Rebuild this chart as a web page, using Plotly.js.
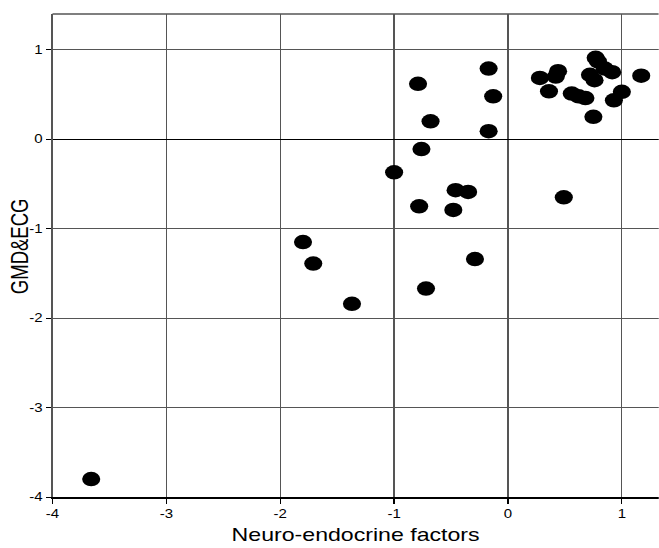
<!DOCTYPE html>
<html><head><meta charset="utf-8">
<script src="https://cdn.plot.ly/plotly-3.0.1.min.js"></script>
<style>
html,body{margin:0;padding:0;background:#fff;overflow:hidden;width:659px;height:548px}
#chart{width:527px;height:548px;transform:scaleX(1.25);transform-origin:0 0}
</style>
</head><body><div id="chart"></div>
<script>
const xValues = [-3.66,-1.80,-1.71,-1.37,-1.00,-0.79,-0.76,-0.78,-0.68,-0.72,-0.46,-0.35,-0.48,-0.29,-0.17,-0.13,-0.17,0.49,
  0.28,0.44,0.42,0.36,0.56,0.62,0.68,0.77,0.79,0.72,0.76,0.85,0.915,0.75,1.00,0.93,1.17];
const yValues = [-3.80,-1.15,-1.39,-1.84,-0.37,0.62,-0.11,-0.75,0.20,-1.67,-0.57,-0.59,-0.79,-1.34,0.79,0.48,0.09,-0.65,
  0.685,0.76,0.70,0.536,0.51,0.48,0.46,0.91,0.87,0.72,0.66,0.79,0.75,0.25,0.53,0.435,0.71];
const xTicks = [-4,-3,-2,-1,0,1];
const xTickLabels = ["-4","-3","-2","-1","0","1"];
const yTicks = [-4,-3,-2,-1,0,1];
const yTickLabels = ["-4","-3","-2","-1","0","1"];
const xTitle = "Neuro-endocrine factors";
const yTitle = "GMD&ECG";

Plotly.newPlot('chart', [{
  x: xValues, y: yValues, type: 'scatter', mode: 'markers',
  marker: {color: '#000', size: 14.5, symbol: 'circle', line: {width: 0}},
  cliponaxis: true, hoverinfo: 'none'
}], {
  width: 527, height: 548,
  margin: {l: 41.5, r: 0, t: 14, b: 51},
  paper_bgcolor: '#fff', plot_bgcolor: '#fff',
  showlegend: false,
  font: {family: 'Liberation Sans, Arial, sans-serif', color: '#000', size: 12},
  xaxis: {
    range: [-4, 1.324], tickvals: xTicks, ticktext: xTickLabels,
    showgrid: true, gridcolor: '#555', gridwidth: 1,
    zeroline: false, showline: true, linecolor: '#000', linewidth: 1.5,
    mirror: false, ticks: 'outside', ticklen: 5, tickcolor: '#000',
    title: {text: xTitle, font: {size: 18.5}, standoff: 8}
  },
  yaxis: {
    range: [-4, 1.4], tickvals: yTicks, ticktext: yTickLabels,
    showgrid: true, gridcolor: '#555', gridwidth: 1,
    zeroline: true, zerolinecolor: '#000', zerolinewidth: 1.2,
    showline: true, linecolor: '#555', linewidth: 1.5,
    ticks: 'outside', ticklen: 4, tickcolor: '#000'
  },
  annotations: [{
    text: yTitle, textangle: -90, xref: 'paper', yref: 'paper',
    x: -0.053, y: 0.52, xanchor: 'center', yanchor: 'middle',
    showarrow: false, font: {size: 18.5, color: '#000'}
  }],
  shapes: [{type: 'line', xref: 'paper', yref: 'paper', x0: 0, x1: 1, y0: 1, y1: 1, line: {color: '#555', width: 1.5}}]
}, {displayModeBar: false, staticPlot: true});
</script></body></html>
